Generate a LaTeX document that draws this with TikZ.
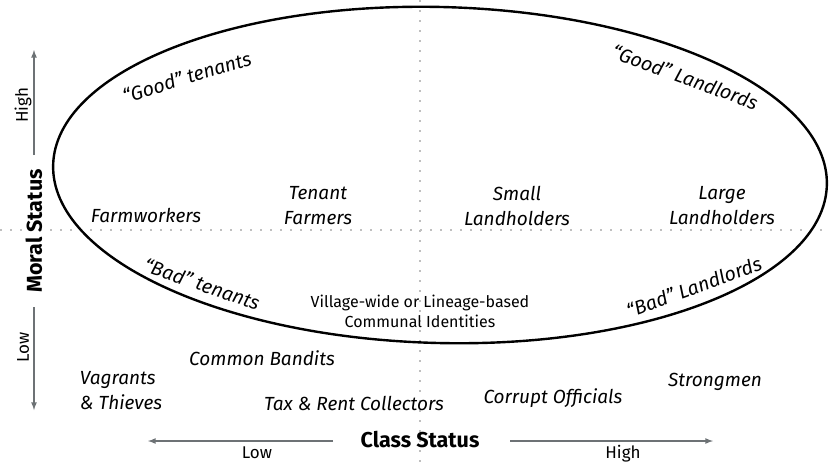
\documentclass[tikz,border=0pt]{standalone}
\usepackage{fontspec}
\setmainfont{Fira Sans}
\usetikzlibrary{arrows}

\tikzset{
  group/.style={font=\itshape\fontsize{19}{25}\selectfont, align=center, inner sep=0pt},
  curvelabel/.style={font=\itshape\fontsize{19.5}{22}\selectfont, inner sep=0pt},
  axislabel/.style={font=\bfseries\fontsize{21.5}{24}\selectfont, inner sep=0pt},
  axisend/.style={font=\fontsize{17}{19}\selectfont, inner sep=0pt},
  axisarrow/.style={-latex, line width=1.6pt, draw=axisgray},
  divider/.style={line width=1.8pt, draw=black!25, dash pattern=on 1.8pt off 8.2pt}
}
\definecolor{axisgray}{HTML}{6D7275}

\begin{document}
\begin{tikzpicture}[x=1pt,y=-1pt]
  \useasboundingbox (0,0) rectangle (829,464);

  % dotted quadrant lines
  \coordinate (west) at (0,230);
  \coordinate (east) at (829,230);
  \coordinate (north) at (420,0);
  \coordinate (south) at (420,464);
  \draw[divider] (west) -- (east);
  \draw[divider] (north) -- (south);

  % the big ellipse
  \draw[line width=2.4pt, rotate around={-1.5:(440,175)}] (440,175) ellipse [x radius=387, y radius=168];

  % moral status axis
  \node[axislabel, rotate=90] (moral) at (34,231) {Moral Status};
  \coordinate (mhigh) at (34,50);
  \coordinate (mlow) at (34,410);
  \draw[axisarrow] (34,155) -- (mhigh);
  \draw[axisarrow] (34,307) -- (mlow);
  \node[axisend, rotate=90] (mhightxt) at (23,105) {High};
  \node[axisend, rotate=90] (mlowtxt) at (23,347) {Low};

  % class status axis
  \node[axislabel] (class) at (420,440) {Class Status};
  \coordinate (clow) at (148,441);
  \coordinate (chigh) at (713,441);
  \draw[axisarrow] (333,441) -- (clow);
  \draw[axisarrow] (510,441) -- (chigh);
  \node[axisend] (clowtxt) at (257,453) {Low};
  \node[axisend] (chightxt) at (623,454) {High};

  % groups inside
  \node[group] (farmworkers) at (146,215) {Farmworkers};
  \node[group] (tenantf) at (318,206) {Tenant\\Farmers};
  \node[group] (smallland) at (517,206) {Small\\Landholders};
  \node[group] (largeland) at (722,206) {Large\\Landholders};
  \node[curvelabel, rotate=17] (goodten) at (187,77) {“Good” tenants};
  \node[curvelabel, rotate=-20] (goodland) at (685,77) {“Good” Landlords};
  \node[curvelabel, rotate=-19] (badten) at (202,284) {“Bad” tenants};
  \node[curvelabel, rotate=20] (badland) at (694,287) {“Bad” Landlords};
  \node[font=\fontsize{16}{20}\selectfont, align=center, inner sep=0pt] (communal) at (420,311)
    {Village-wide or Lineage-based\\Communal Identities};

  % groups outside
  \node[group] (bandits) at (262,358) {Common Bandits};
  \node[group, align=left] (vagrants) at (121,391) {Vagrants\\\& Thieves};
  \node[group] (collectors) at (354,403) {Tax \& Rent Collectors};
  \node[group] (officials) at (553,398) {Corrupt Officials};
  \node[group] (strongmen) at (715,382) {Strongmen};
\end{tikzpicture}
\end{document}
